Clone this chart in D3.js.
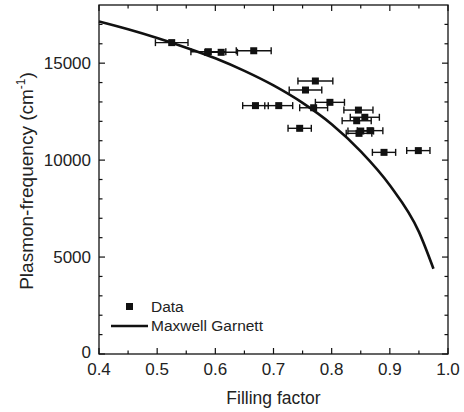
<!DOCTYPE html>
<html><head><meta charset="utf-8">
<script src="https://cdn.jsdelivr.net/npm/d3@7"></script>
<style>
body{margin:0;background:#fff;}
svg{display:block;font-family:"Liberation Sans",Arial,sans-serif;}
</style></head>
<body><svg id="chart" width="464" height="412"></svg>
<script>
// Data points: filling factor, plasmon frequency, half-width of x error bar
const dataF   = [0.525,0.588,0.610,0.666,0.669,0.709,0.772,0.755,0.797,0.769,0.745,0.846,0.857,0.843,0.850,0.866,0.847,0.890,0.949];
const dataV   = [16060,15590,15560,15640,12810,12810,14080,13615,12980,12700,11640,12580,12210,12030,11500,11520,11380,10400,10490];
const dataErr = [0.028,0.030,0.028,0.030,0.022,0.024,0.030,0.028,0.025,0.024,0.020,0.025,0.025,0.025,0.022,0.022,0.022,0.020,0.020];
// Maxwell Garnett curve
const mgF = [0.40,0.45,0.50,0.55,0.60,0.65,0.70,0.75,0.80,0.85,0.90,0.95,0.975];
const mgV = [17150,16750,16300,15800,15250,14600,13850,12950,11850,10450,8700,6300,4400];
const xTicks = [0.4,0.5,0.6,0.7,0.8,0.9,1.0];
const xMinor = [0.45,0.55,0.65,0.75,0.85,0.95];
const yTicks = [0,5000,10000,15000];
const yMinor = [1000,2000,3000,4000,6000,7000,8000,9000,11000,12000,13000,14000,16000,17000];
const legendLabels = ["Data","Maxwell Garnett"];

const svg = d3.select("#chart");
const L=99, R=448, T=5, B=354;
const x = d3.scaleLinear().domain([0.4,1.0]).range([L,R]);
const y = d3.scaleLinear().domain([0,18000]).range([B,T]);
const ink = "#111";

// frame
svg.append("rect").attr("x",L).attr("y",T).attr("width",R-L).attr("height",B-T)
  .attr("fill","none").attr("stroke",ink).attr("stroke-width",1.3);

// ticks (inward) on all four sides
function ticks(vals, len){
  vals.forEach(v=>{
    svg.append("line").attr("x1",x(v)).attr("x2",x(v)).attr("y1",B).attr("y2",B-len).attr("stroke",ink).attr("stroke-width",1.2);
    svg.append("line").attr("x1",x(v)).attr("x2",x(v)).attr("y1",T).attr("y2",T+len).attr("stroke",ink).attr("stroke-width",1.2);
  });
}
function yticks(vals, len){
  vals.forEach(v=>{
    svg.append("line").attr("y1",y(v)).attr("y2",y(v)).attr("x1",L).attr("x2",L+len).attr("stroke",ink).attr("stroke-width",1.2);
    svg.append("line").attr("y1",y(v)).attr("y2",y(v)).attr("x1",R).attr("x2",R-len).attr("stroke",ink).attr("stroke-width",1.2);
  });
}
ticks(xTicks,6); ticks(xMinor,3.5); yticks(yTicks,6); yticks(yMinor,3.5);

// tick labels
svg.append("g").selectAll("text").data(xTicks).join("text")
  .attr("x",d=>x(d)).attr("y",B+21).attr("text-anchor","middle")
  .attr("font-size",17).attr("fill","#222").text(d=>d.toFixed(1));
svg.append("g").selectAll("text").data(yTicks).join("text")
  .attr("x",L-8).attr("y",d=>y(d)+(d===0?4:6)).attr("text-anchor","end")
  .attr("font-size",17).attr("fill","#222").text(d=>d);

// axis titles
svg.append("text").attr("x",(L+R)/2).attr("y",404).attr("text-anchor","middle")
  .attr("font-size",17.5).attr("fill","#222").text("Filling factor");
const yt = svg.append("text").attr("transform",`translate(33,181) rotate(-90)`)
  .attr("text-anchor","middle").attr("font-size",19).attr("fill","#222");
yt.append("tspan").text("Plasmon-frequency (cm");
yt.append("tspan").attr("font-size",12).attr("dy",-8).text("-1");
yt.append("tspan").attr("dy",8).text(")");

// curve
const line = d3.line().x((d,i)=>x(mgF[i])).y((d,i)=>y(mgV[i])).curve(d3.curveMonotoneX);
svg.append("path").attr("d",line(mgF)).attr("fill","none").attr("stroke",ink).attr("stroke-width",2.6);

// error bars + points
const pts = dataF.map((f,i)=>({f,v:dataV[i],e:dataErr[i]}));
const g = svg.append("g");
pts.forEach(p=>{
  const yy=y(p.v), x1=x(p.f-p.e), x2=x(p.f+p.e);
  g.append("line").attr("x1",x1).attr("x2",x2).attr("y1",yy).attr("y2",yy).attr("stroke",ink).attr("stroke-width",1.4);
  [x1,x2].forEach(xx=>g.append("line").attr("x1",xx).attr("x2",xx).attr("y1",yy-3.5).attr("y2",yy+3.5).attr("stroke",ink).attr("stroke-width",1.4));
});
g.selectAll("rect.pt").data(pts).join("rect").attr("class","pt")
  .attr("x",d=>x(d.f)-3.5).attr("y",d=>y(d.v)-3.5).attr("width",7).attr("height",7).attr("fill",ink);

// legend
svg.append("rect").attr("x",126).attr("y",303).attr("width",7).attr("height",7).attr("fill",ink);
svg.append("line").attr("x1",111).attr("x2",148).attr("y1",326).attr("y2",326).attr("stroke",ink).attr("stroke-width",2.6);
svg.append("text").attr("x",151).attr("y",312).attr("font-size",15.5).attr("fill","#222").text(legendLabels[0]);
svg.append("text").attr("x",151).attr("y",331).attr("font-size",15.5).attr("fill","#222").text(legendLabels[1]);
</script></body></html>
